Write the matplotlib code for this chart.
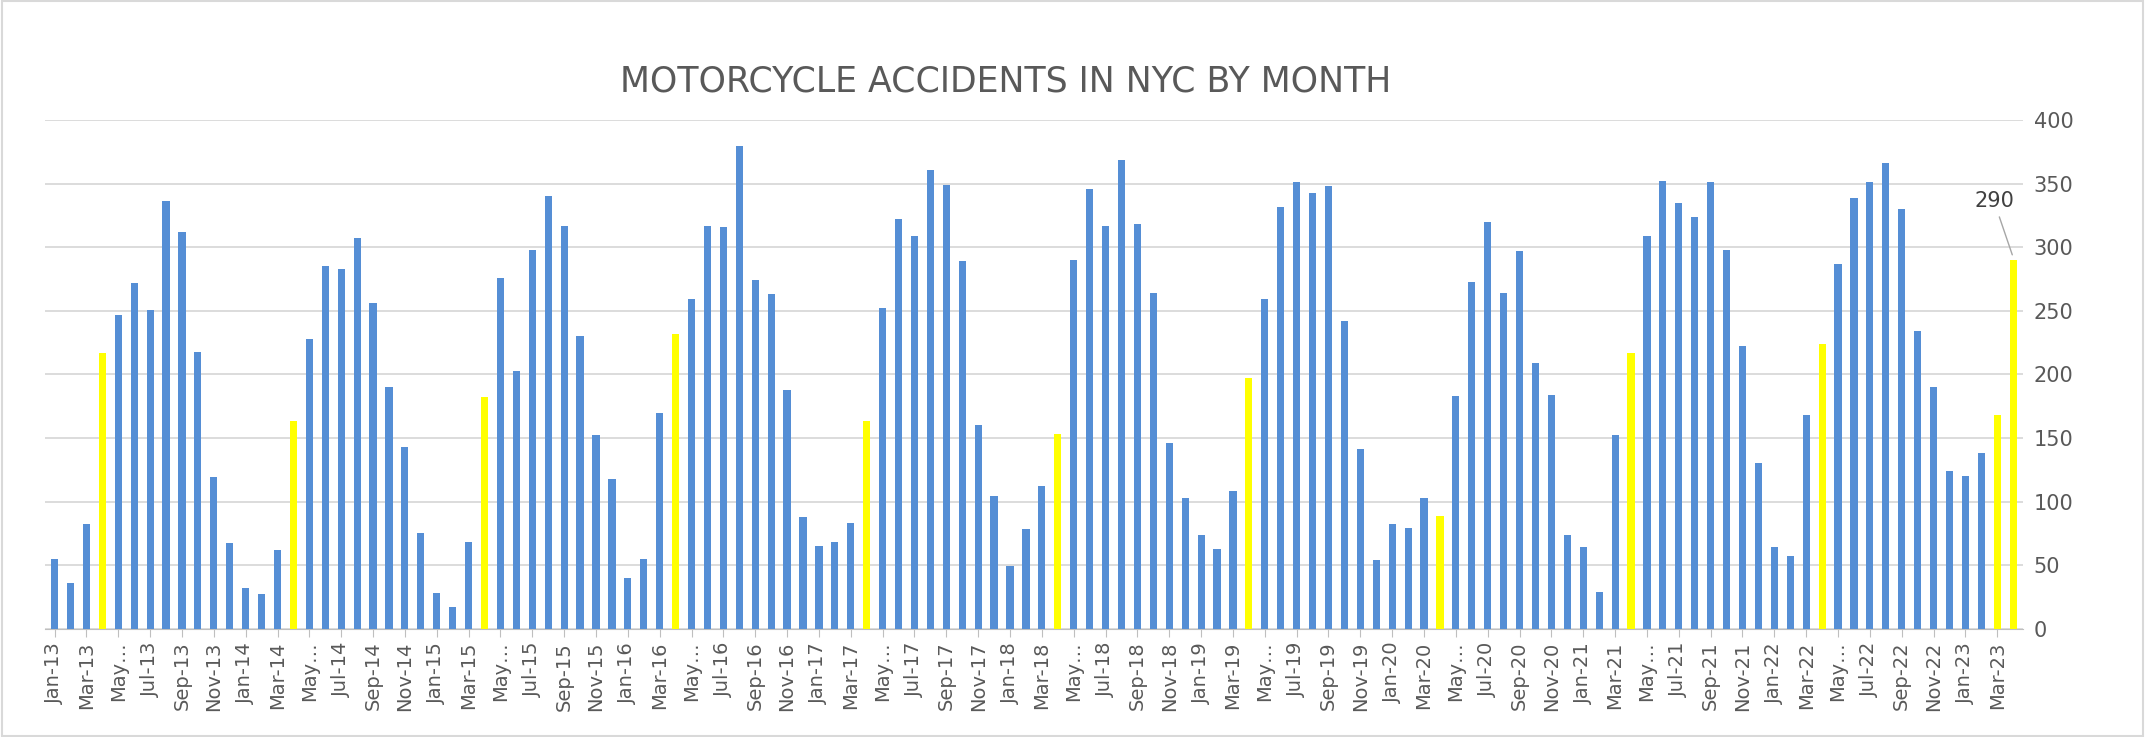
import matplotlib
matplotlib.use("Agg")
import matplotlib.pyplot as plt
import numpy as np

months = ["Jan","Feb","Mar","Apr","May","Jun","Jul","Aug","Sep","Oct","Nov","Dec"]
labels = [f"{m}-{y:02d}" for y in range(13, 24) for m in months][:124]
values = [
    55, 36, 82, 217, 247, 272, 251, 336, 312, 218, 119, 67,
    32, 27, 62, 163, 228, 285, 283, 307, 256, 190, 143, 75,
    28, 17, 68, 182, 276, 203, 298, 340, 317, 230, 152, 118,
    40, 55, 170, 232, 259, 317, 316, 380, 274, 263, 188, 88,
    65, 68, 83, 163, 252, 322, 309, 361, 349, 289, 160, 104,
    49, 78, 112, 153, 290, 346, 317, 369, 318, 264, 146, 103,
    74, 63, 108, 197, 259, 332, 351, 343, 348, 242, 141, 54,
    82, 79, 103, 89, 183, 273, 320, 264, 297, 209, 184, 74,
    64, 29, 152, 217, 309, 352, 335, 324, 351, 298, 222, 130,
    64, 57, 168, 224, 287, 339, 351, 366, 330, 234, 190, 124,
    120, 138, 168, 290,
]
highlight = [l.startswith("Apr") or l == "Mar-23" for l in labels]
colors = ["#FFFF00" if h else "#558ED5" for h in highlight]

fig = plt.figure(figsize=(21.45, 7.37), dpi=100)
ax = fig.add_axes([0.021, 0.147, 0.922, 0.69])
x = np.arange(len(values))
ax.bar(x, values, width=0.45, color=colors, zorder=3)
ax.set_xlim(-0.6, len(values) - 0.4)
ax.set_ylim(0, 400)
ax.yaxis.tick_right()
ax.set_yticks(range(0, 401, 50))
ax.tick_params(axis="y", length=0, labelsize=15, colors="#595959", pad=8)
ax.grid(axis="y", color="#D9D9D9", linewidth=1.3, zorder=0)
for s in ["top", "right", "left"]:
    ax.spines[s].set_visible(False)
ax.spines["bottom"].set_color("#BFBFBF")
ticklabels = [l if not l.startswith("May") else "May…" for l in labels]
ax.set_xticks(x[::2])
ax.set_xticklabels(ticklabels[::2], rotation=90, fontsize=14, color="#595959")
ax.tick_params(axis="x", length=6, color="#BFBFBF")
fig.text(0.469, 0.889, "MOTORCYCLE ACCIDENTS IN NYC BY MONTH", ha="center", va="center",
         fontsize=25, color="#595959")
ax.annotate(str(values[-1]), xy=(x[-1], values[-1] + 2), xytext=(x[-1] - 1.2, 336),
            ha="center", va="center", fontsize=15, color="#404040",
            arrowprops=dict(arrowstyle="-", color="#A6A6A6", lw=1))
fig.patches.append(plt.Rectangle((0.001, 0.001), 0.998, 0.998, transform=fig.transFigure,
                                 fill=False, edgecolor="#D9D9D9", lw=1.5))
fig.savefig("out.png", dpi=100)
